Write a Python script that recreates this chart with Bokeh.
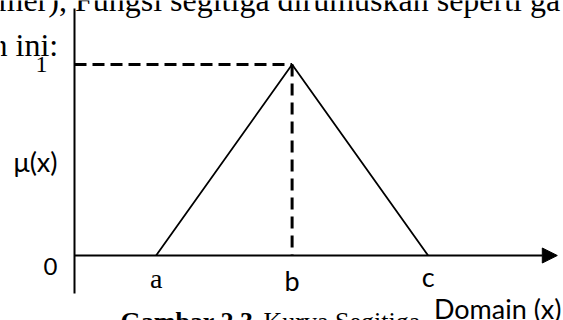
from bokeh.plotting import figure
from bokeh.models import Label, Arrow, NormalHead, ColumnDataSource, Range1d
from bokeh.core.properties import value
from bokeh.embed import file_html
from bokeh.resources import INLINE

# Triangular membership function: mu(x) rises from a to b, falls from b to c
a, b, c = 3.0, 8.0, 13.0
tri_x = [a, b, c]
tri_mu = [0.0, 1.0, 0.0]
x_axis_end = 17.75
mu_axis_top = 1.293
mu_axis_bottom = -0.199

tick_names = ["a", "b", "c"]
tick_pos = [a, b, c]
tick_fonts = ["Liberation Serif", "Lato", "Lato"]
tick_sizes = ["28px", "27px", "27px"]

p = figure(width=563, height=320, output_backend="svg", toolbar_location=None,
           x_axis_type=None, y_axis_type=None, min_border=0,
           x_range=Range1d(-74 / 27.2, (563 - 74) / 27.2),
           y_range=Range1d(-65 / 191, 255 / 191))
p.grid.visible = False
p.outline_line_color = None
p.background_fill_color = "white"
p.border_fill_color = "white"

# axes drawn as plain lines
p.line([0, 0], [mu_axis_bottom, mu_axis_top], line_color="black", line_width=2)
p.add_layout(Arrow(x_start=0, y_start=0, x_end=x_axis_end, y_end=0,
                   line_color="black", line_width=2,
                   end=NormalHead(size=15, fill_color="black", line_color="black")))

# the triangle
p.line(tri_x, tri_mu, line_color="black", line_width=1.8)

# dashed guides to the peak
p.line([0, b], [1, 1], line_color="black", line_width=3, line_dash="12 6")
p.line([b, b], [1, 0], line_color="black", line_width=3, line_dash="12 7")

serif = value("Liberation Serif")
sans = value("Lato")

src = ColumnDataSource(dict(x=tick_pos, y=[-0.118, -0.129, -0.108], t=tick_names,
                            f=tick_fonts, s=tick_sizes))
p.text(x="x", y="y", text="t", source=src, text_font="f", text_font_size="s",
       text_align="center", text_baseline="middle", text_color="black")

p.text(x=[-1.213], y=[1.0], text=["1"], text_font=serif, text_font_size="24px",
       text_align="center", text_baseline="middle", text_color="black")
p.text(x=[-0.88], y=[-0.06], text=["0"], text_font=sans, text_font_size="24px",
       text_align="center", text_baseline="middle", text_color="black")
p.text(x=[-1.434], y=[0.492], text=["μ(x)"], text_font=sans, text_font_size="27px",
       text_align="center", text_baseline="middle", text_color="black")

p.add_layout(Label(x=561, y=12.4, x_units="screen", y_units="screen", text="Domain (x)",
                   text_font="Lato", text_font_size="27px", text_align="right",
                   text_baseline="middle", text_color="black"))

# surrounding document text
p.add_layout(Label(x=-2, y=320.8, x_units="screen", y_units="screen",
                   text="mer), Fungsi segitiga dirumuskan seperti ga",
                   text_font="Liberation Serif", text_font_size="32px",
                   text_baseline="middle", text_color="black"))
p.add_layout(Label(x=-9, y=275.8, x_units="screen", y_units="screen", text="h ini:",
                   text_font="Liberation Serif", text_font_size="32px",
                   text_baseline="middle", text_color="black"))
p.add_layout(Label(x=120, y=14, x_units="screen", y_units="screen", text="Gambar 2.3",
                   text_font="Liberation Serif", text_font_size="26px", text_font_style="bold",
                   text_baseline="top", text_color="black"))
p.add_layout(Label(x=263, y=14, x_units="screen", y_units="screen", text="Kurva Segitiga",
                   text_font="Liberation Serif", text_font_size="26px",
                   text_baseline="top", text_color="black"))

open("out.html", "w").write(file_html(p, INLINE))
